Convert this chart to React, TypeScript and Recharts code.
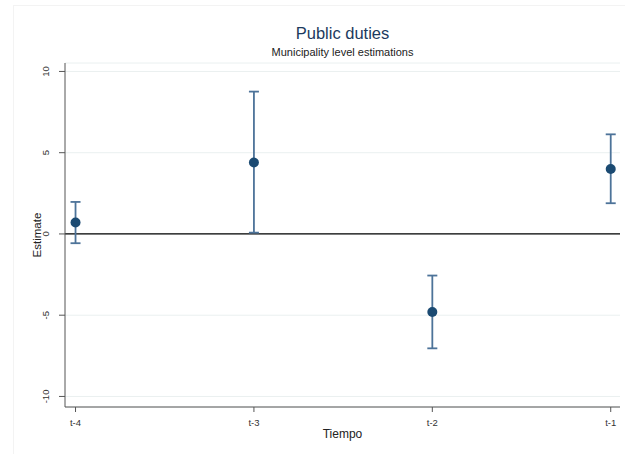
import React from 'react';
import {
  ComposedChart, Scatter, ErrorBar, XAxis, YAxis, CartesianGrid, ReferenceLine, Label
} from 'recharts';

const periods = ['t-4', 't-3', 't-2', 't-1'];
const estimates = [0.7, 4.4, -4.8, 4.0];
const ciLow = [-0.57, 0.08, -7.04, 1.89];
const ciHigh = [1.97, 8.76, -2.56, 6.13];
const yTicks = [-10, -5, 0, 5, 10];

const data = periods.map((p, i) => ({
  x: i,
  est: estimates[i],
  err: [estimates[i] - ciLow[i], ciHigh[i] - estimates[i]],
}));

const FONT = '"Liberation Sans", Arial, sans-serif';

// rotated y tick labels, read bottom to top
const YTick = (props: any) => {
  const { x, y, payload } = props;
  return (
    <text x={x - 8} y={y} transform={`rotate(-90, ${x - 8}, ${y})`} textAnchor="middle"
      fontSize={9.5} fill="#333" fontFamily={FONT}>
      {payload.value}
    </text>
  );
};

const XTick = (props: any) => {
  const { x, y, payload } = props;
  return (
    <text x={x} y={y + 12} textAnchor="middle" fontSize={9.5} fill="#333" fontFamily={FONT}>
      {periods[payload.value]}
    </text>
  );
};

export default function App() {
  return (
    <div style={{ position: 'absolute', left: 0, top: 0, width: 625, height: 454, background: '#fff', overflow: 'hidden' }}>
      <div style={{ position: 'absolute', left: 13, top: 5, width: 640, height: 480, borderLeft: '1px solid #f3f3f3', borderTop: '1px solid #f3f3f3' }} />
      <div style={{ position: 'absolute', left: 65, width: 555, top: 24, textAlign: 'center', fontFamily: FONT, fontSize: 16.5, color: '#1c3a5e' }}>
        Public duties
      </div>
      <div style={{ position: 'absolute', left: 65, width: 555, top: 46, textAlign: 'center', fontFamily: FONT, fontSize: 11, color: '#222' }}>
        Municipality level estimations
      </div>
      <ComposedChart width={625} height={454} data={data}
        margin={{ top: 63, right: 5, bottom: 0, left: 0 }}>
        <CartesianGrid horizontal vertical={false} stroke="#eaf0f0" strokeWidth={1} />
        <XAxis type="number" dataKey="x" domain={[-0.059, 3.052]} ticks={[0, 1, 2, 3]}
          height={47} axisLine={{ stroke: '#555' }} tickLine={{ stroke: '#555' }} tickSize={5}
          tick={<XTick />} interval={0}>
          <Label value="Tiempo" position="insideBottom" offset={16} fontSize={12} fill="#222" fontFamily={FONT} />
        </XAxis>
        <YAxis type="number" dataKey="est" domain={[-10.65, 10.52]} ticks={yTicks} width={65}
          axisLine={{ stroke: '#555' }} tickLine={{ stroke: '#555' }} tickSize={6}
          tick={<YTick />} interval={0}>
          <Label value="Estimate" angle={-90} position="insideLeft" offset={37} textAnchor="middle"
            fontSize={11.5} fill="#222" fontFamily={FONT} />
        </YAxis>
        <ReferenceLine y={0} stroke="#000" strokeWidth={1.3} />
        <Scatter dataKey="est" fill="#1b4a72" isAnimationActive={false}
          shape={(p: any) => <circle cx={p.cx} cy={p.cy} r={5} fill="#1b4a72" />}>
          <ErrorBar dataKey="err" direction="y" width={5} stroke="#4d7399" strokeWidth={1.8} />
        </Scatter>
      </ComposedChart>
    </div>
  );
}
